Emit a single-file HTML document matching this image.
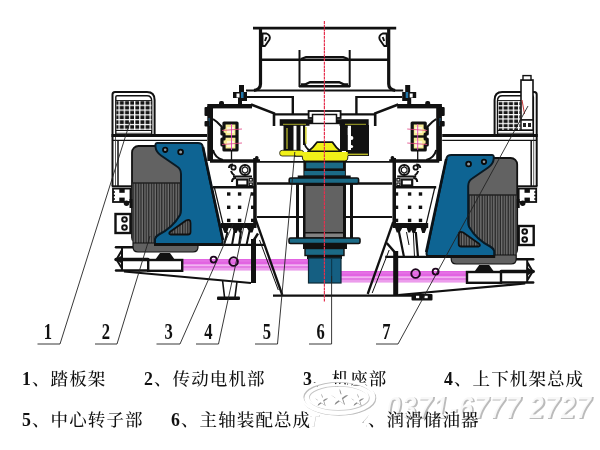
<!DOCTYPE html>
<html lang="zh"><head><meta charset="utf-8"><title>结构图</title>
<style>
html,body{margin:0;padding:0;background:#fff;}
body{width:600px;height:450px;position:relative;overflow:hidden;-webkit-font-smoothing:antialiased;font-family:"Liberation Serif","Noto Serif CJK SC",serif;}
.t{position:absolute;z-index:3;left:0;width:600px;height:24px;font-size:17.5px;letter-spacing:1.1px;line-height:24px;color:#111;white-space:nowrap;font-weight:500;}
.t span{position:absolute;top:0;}
svg,.t{will-change:transform;}
.t b{font-weight:bold;font-size:17.8px;}
</style></head><body>
<svg width="600" height="450" viewBox="0 0 600 450" style="position:absolute;left:0;top:0">

<defs>
<pattern id="fins" width="2.6" height="8" patternUnits="userSpaceOnUse"><rect width="2.6" height="8" fill="#707070"/><rect width="1.25" height="8" fill="#262626"/></pattern>
<pattern id="pink" width="8" height="12" patternUnits="userSpaceOnUse" y="259"><rect width="8" height="12" fill="#f2b4f2"/><rect width="8" height="5.3" fill="#e264e2"/><rect y="1.6" width="8" height="0.7" fill="#ea88ea"/><rect y="7" width="8" height="2.4" fill="#e47ce4"/><rect y="10.4" width="8" height="1.6" fill="#e88ce8"/></pattern>
<pattern id="mesh" width="5.18" height="4.8" patternUnits="userSpaceOnUse" x="118.5" y="104.7"><rect width="5.18" height="4.8" fill="#161616"/><rect width="1.25" height="4.8" fill="#fff"/><rect width="5.18" height="1.2" fill="#fff"/></pattern>
<pattern id="meshr" width="5.2" height="4.4" patternUnits="userSpaceOnUse" x="502.4" y="105.2"><rect width="5.2" height="4.4" fill="#161616"/><rect width="1.25" height="4.4" fill="#fff"/><rect width="5.2" height="1.2" fill="#fff"/></pattern>
</defs>

<rect width="600" height="450" fill="#fff"/>
<!-- base + motors -->
<g>
<path d="M227.5 232 L224 245 M234.5 231 L232 245 M241 231 L239 245 M249.5 231 L246.5 245" fill="none" stroke="#111" stroke-width="2"/>
<path d="M253.5 240.5 L258 233.5" stroke="#111" stroke-width="2.4" fill="none"/>

<rect x="183" y="259" width="126" height="11.5" fill="url(#pink)"/>
<rect x="148.2" y="260" width="34" height="10.8" fill="#fff" stroke="#111" stroke-width="2.4"/>
<line x1="116" y1="247.3" x2="134" y2="247.3" stroke="#111" stroke-width="2.5" stroke-linecap="round"/>
<line x1="116" y1="259.5" x2="148" y2="259.5" stroke="#111" stroke-width="3.4" stroke-linecap="round"/>
<path d="M122 247 V271 M122 250 L116.5 259.5 L122 268.5" stroke="#111" stroke-width="2" fill="none" stroke-linejoin="round"/>
<line x1="116" y1="270.5" x2="148" y2="270.5" stroke="#111" stroke-width="2.4" stroke-linecap="round"/>
<path d="M122.5 255 L115.5 259.5 L122.5 264 Z" fill="#111"/>
<line x1="124" y1="271.5" x2="251" y2="283" stroke="#111" stroke-width="2.2"/>
<rect x="251" y="239" width="5" height="44" fill="#111"/>
<circle cx="213.6" cy="259.6" r="3" fill="none" stroke="#1c041c" stroke-width="1.8"/>
<circle cx="233.6" cy="261.6" r="4.3" fill="none" stroke="#1c041c" stroke-width="1.9"/>
<rect x="115.5" y="214" width="15" height="19" fill="#fff" stroke="#111" stroke-width="2.4"/>
<circle cx="124.5" cy="219.5" r="2.3" fill="#fff" stroke="#111" stroke-width="2"/>
<circle cx="124.5" cy="227.5" r="2.3" fill="#fff" stroke="#111" stroke-width="2"/>
<line x1="222" y1="244.8" x2="264" y2="244.8" stroke="#111" stroke-width="2.2"/>

<rect x="132" y="146" width="56" height="98" rx="6.5" fill="#626262" stroke="#111" stroke-width="1.8"/>
<rect x="132.5" y="183" width="52" height="60" fill="url(#fins)"/>
<line x1="132" y1="183" x2="185" y2="183" stroke="#222" stroke-width="1.5"/>
<path d="M133 243 H198 V247 Q198 252 193 252 H138 Q133 252 133 247 Z" fill="#626262" stroke="#111" stroke-width="1.2"/>
<path d="M160 253 L170 253 L175 260 L155 260 Z" fill="#111"/>
<path d="M157 143 H198 Q202 143 202.6 146 Q214 200 222.5 240 Q223.3 244 220 244 H155 V239 Q156 236 159 234.5 C168 230 176 222 180 215 Q181 213 181 210 V174 Q181 169 177 166.5 L161 155.5 Q156 152 155.5 147 Q155 143 157 143 Z" fill="#0e6493" stroke="#0a1a24" stroke-width="2" stroke-linejoin="round"/>
<line x1="154" y1="244.5" x2="223" y2="244.5" stroke="#111" stroke-width="2.8"/>
<path d="M203 147 Q214.4 200 223 240" fill="none" stroke="#0a1218" stroke-width="2.6"/>
<circle cx="165.2" cy="149.8" r="2.2" fill="#8e9aa2" stroke="#0a0a0a" stroke-width="1.8"/>
<circle cx="180.6" cy="152" r="2.4" fill="#8e9aa2" stroke="#0a0a0a" stroke-width="1.8"/>
<path d="M170.5 234.5 Q168 233.5 170.5 231.5 L186 220.5 Q190.5 218.5 190.5 223 V232 Q190.5 234.5 188 234.5 Z" fill="url(#fins)" stroke="#111" stroke-width="1.8" stroke-linejoin="round"/>
</g>

<path d="M399 232 L404 257 M415.8 232 L418 257" fill="none" stroke="#111" stroke-width="2.2"/>
<path d="M413.3 232 L414.5 257 M406.5 232 L409 245" fill="none" stroke="#111" stroke-width="1"/>
<path d="M395 252.5 L386.7 243" stroke="#111" stroke-width="2.5" fill="none"/>

<g transform="translate(649.2,12) scale(-1,1)">
<rect x="183" y="259" width="126" height="11.5" fill="url(#pink)"/>
<rect x="148.2" y="260" width="34" height="10.8" fill="#fff" stroke="#111" stroke-width="2.4"/>
<line x1="116" y1="247.3" x2="134" y2="247.3" stroke="#111" stroke-width="2.5" stroke-linecap="round"/>
<line x1="116" y1="259.5" x2="148" y2="259.5" stroke="#111" stroke-width="3.4" stroke-linecap="round"/>
<path d="M122 247 V271 M122 250 L116.5 259.5 L122 268.5" stroke="#111" stroke-width="2" fill="none" stroke-linejoin="round"/>
<line x1="116" y1="270.5" x2="148" y2="270.5" stroke="#111" stroke-width="2.4" stroke-linecap="round"/>
<path d="M122.5 255 L115.5 259.5 L122.5 264 Z" fill="#111"/>
<line x1="124" y1="271.5" x2="251" y2="283" stroke="#111" stroke-width="2.2"/>
<rect x="251" y="239" width="5" height="44" fill="#111"/>
<circle cx="213.6" cy="259.6" r="3" fill="none" stroke="#1c041c" stroke-width="1.8"/>
<circle cx="233.6" cy="261.6" r="4.3" fill="none" stroke="#1c041c" stroke-width="1.9"/>
<rect x="115.5" y="214" width="15" height="19" fill="#fff" stroke="#111" stroke-width="2.4"/>
<circle cx="124.5" cy="219.5" r="2.3" fill="#fff" stroke="#111" stroke-width="2"/>
<circle cx="124.5" cy="227.5" r="2.3" fill="#fff" stroke="#111" stroke-width="2"/>
<line x1="222" y1="244.8" x2="264" y2="244.8" stroke="#111" stroke-width="2.2"/>

<rect x="132" y="146" width="56" height="98" rx="6.5" fill="#626262" stroke="#111" stroke-width="1.8"/>
<rect x="132.5" y="183" width="52" height="60" fill="url(#fins)"/>
<line x1="132" y1="183" x2="185" y2="183" stroke="#222" stroke-width="1.5"/>
<path d="M133 243 H198 V247 Q198 252 193 252 H138 Q133 252 133 247 Z" fill="#626262" stroke="#111" stroke-width="1.2"/>
<path d="M160 253 L170 253 L175 260 L155 260 Z" fill="#111"/>
<path d="M157 143 H198 Q202 143 202.6 146 Q214 200 222.5 240 Q223.3 244 220 244 H155 V239 Q156 236 159 234.5 C168 230 176 222 180 215 Q181 213 181 210 V174 Q181 169 177 166.5 L161 155.5 Q156 152 155.5 147 Q155 143 157 143 Z" fill="#0e6493" stroke="#0a1a24" stroke-width="2" stroke-linejoin="round"/>
<line x1="154" y1="244.5" x2="223" y2="244.5" stroke="#111" stroke-width="2.8"/>
<path d="M203 147 Q214.4 200 223 240" fill="none" stroke="#0a1218" stroke-width="2.6"/>
<circle cx="165.2" cy="149.8" r="2.2" fill="#8e9aa2" stroke="#0a0a0a" stroke-width="1.8"/>
<circle cx="180.6" cy="152" r="2.4" fill="#8e9aa2" stroke="#0a0a0a" stroke-width="1.8"/>
<path d="M170.5 234.5 Q168 233.5 170.5 231.5 L186 220.5 Q190.5 218.5 190.5 223 V232 Q190.5 234.5 188 234.5 Z" fill="url(#fins)" stroke="#111" stroke-width="1.8" stroke-linejoin="round"/>
</g>

<line x1="255.5" y1="219" x2="282.3" y2="295" stroke="#111" stroke-width="2.3"/>
<line x1="259.5" y1="240" x2="278.3" y2="290" stroke="#111" stroke-width="1"/>

<g transform="translate(649.2,0) scale(-1,1)"><line x1="256" y1="222" x2="281.5" y2="294" stroke="#111" stroke-width="2.3"/><line x1="260" y1="250" x2="277" y2="293" stroke="#111" stroke-width="1"/></g>

<path d="M112.5 186 V94.5 Q112.5 92 115 92 H147 Q154.6 92 154.6 100 V134" fill="none" stroke="#111" stroke-width="2"/>
<path d="M115.8 134 V97 Q115.8 95.8 117 95.8 H147 Q151.7 95.8 151.7 101 V134" fill="none" stroke="#111" stroke-width="1.4"/>
<line x1="116" y1="100.6" x2="152" y2="100.6" stroke="#111" stroke-width="1"/>
<line x1="111.5" y1="135.5" x2="207" y2="135.5" stroke="#111" stroke-width="3"/>
<line x1="113" y1="140.4" x2="207" y2="140.4" stroke="#111" stroke-width="1.3"/>
<line x1="116" y1="130.4" x2="152" y2="130.4" stroke="#111" stroke-width="1.2"/>
<line x1="116" y1="133.3" x2="152" y2="133.3" stroke="#111" stroke-width="0.8"/>
<line x1="115.5" y1="137" x2="115.5" y2="186" stroke="#333" stroke-width="0.8"/>
<line x1="118" y1="141" x2="118" y2="186" stroke="#111" stroke-width="1.5"/>
<line x1="111.7" y1="186.3" x2="132" y2="186.3" stroke="#111" stroke-width="2"/>
<rect x="113" y="188.6" width="17.5" height="13.4" fill="#fff" stroke="#111" stroke-width="1.8"/>
<rect x="119.3" y="188.6" width="5.4" height="4.2" fill="#111"/>
<rect x="119.3" y="197.6" width="5.4" height="4.4" fill="#111"/>
<path d="M113 192 h2 M113 195.5 h2 M113 199 h2" stroke="#111" stroke-width="1.4"/>
<circle cx="126.5" cy="203.3" r="2.7" fill="#111"/>
<rect x="129.5" y="199" width="3" height="9" fill="#111"/>
<rect x="116.5" y="101" width="35" height="29" fill="url(#mesh)"/>
<g transform="translate(649.2,0) scale(-1,1)">
<path d="M112.5 186 V94.5 Q112.5 92 115 92 H147 Q154.6 92 154.6 100 V134" fill="none" stroke="#111" stroke-width="2"/>
<path d="M115.8 134 V97 Q115.8 95.8 117 95.8 H147 Q151.7 95.8 151.7 101 V134" fill="none" stroke="#111" stroke-width="1.4"/>
<line x1="116" y1="100.6" x2="152" y2="100.6" stroke="#111" stroke-width="1"/>
<line x1="111.5" y1="135.5" x2="207" y2="135.5" stroke="#111" stroke-width="3"/>
<line x1="113" y1="140.4" x2="207" y2="140.4" stroke="#111" stroke-width="1.3"/>
<line x1="116" y1="130.4" x2="152" y2="130.4" stroke="#111" stroke-width="1.2"/>
<line x1="116" y1="133.3" x2="152" y2="133.3" stroke="#111" stroke-width="0.8"/>
<line x1="115.5" y1="137" x2="115.5" y2="186" stroke="#333" stroke-width="0.8"/>
<line x1="118" y1="141" x2="118" y2="186" stroke="#111" stroke-width="1.5"/>
<line x1="111.7" y1="186.3" x2="132" y2="186.3" stroke="#111" stroke-width="2"/>
<rect x="113" y="188.6" width="17.5" height="13.4" fill="#fff" stroke="#111" stroke-width="1.8"/>
<rect x="119.3" y="188.6" width="5.4" height="4.2" fill="#111"/>
<rect x="119.3" y="197.6" width="5.4" height="4.4" fill="#111"/>
<path d="M113 192 h2 M113 195.5 h2 M113 199 h2" stroke="#111" stroke-width="1.4"/>
<circle cx="126.5" cy="203.3" r="2.7" fill="#111"/>
<rect x="129.5" y="199" width="3" height="9" fill="#111"/>
</g><rect x="498.5" y="101" width="22" height="29" fill="url(#meshr)"/>

<!-- hopper -->
<path d="M260.5 28 V84 Q260.5 89.5 254 90.5" fill="none" stroke="#111" stroke-width="3.2"/>
<path d="M262.5 33.5 h4 q4.5 2 3 6 l-4.5 6.5 h-2.5 Z M266.5 37 l-1.5 4" fill="#fff" stroke="#111" stroke-width="1.9" stroke-linejoin="round"/>
<line x1="299.5" y1="50" x2="299.5" y2="87" stroke="#111" stroke-width="2"/>
<path d="M301 59 L306 57 H325" fill="none" stroke="#111" stroke-width="2.2"/>
<path d="M301 84.5 H305 L310 82.2 H325" fill="none" stroke="#111" stroke-width="2.4"/>
<line x1="247" y1="97" x2="293" y2="97" stroke="#111" stroke-width="2.2"/>
<line x1="292.8" y1="96" x2="292.8" y2="115" stroke="#111" stroke-width="2.4"/>
<line x1="274" y1="114.3" x2="309" y2="114.3" stroke="#111" stroke-width="2.3"/>
<!-- casing -->
<rect x="207.3" y="106" width="5.7" height="55" fill="#111"/>
<rect x="207.3" y="104" width="44.7" height="4.4" fill="#111"/>
<path d="M251 104.5 L274 113.3 V126" fill="none" stroke="#111" stroke-width="2.6"/>
<rect x="204.5" y="107" width="5" height="9" rx="1" fill="#111"/>
<rect x="208.3" y="118" width="1.6" height="8" fill="#1c4a66"/>
<rect x="204.5" y="121" width="5" height="5.5" rx="1" fill="#111"/>
<rect x="219" y="101" width="5" height="5" rx="2" fill="#111"/>
<path d="M233 92 h6 v-7 h5 v7 h3 v9 h-5 v5 h-4 v-8 h-5 Z" fill="#111"/>
<rect x="236.5" y="93.5" width="3" height="4" fill="#fff"/>
<rect x="241" y="92" width="2.5" height="6" fill="#2277aa"/>
<line x1="210" y1="160.5" x2="260" y2="160.5" stroke="#111" stroke-width="2.6"/>
<path d="M213 150 Q215 158 223 160" fill="none" stroke="#111" stroke-width="2"/>
<!-- cream blocks -->
<path d="M224 123 h13 v27 h-13 v-5 h-2 v-6 h2 v-5 h-2 v-6 h2 Z" fill="#f6ec96" stroke="#111" stroke-width="3.2" stroke-linejoin="round"/>
<line x1="223" y1="136.5" x2="238" y2="136.5" stroke="#111" stroke-width="2.4"/>
<rect x="227" y="127" width="7" height="6" fill="#fdf8d8"/>
<rect x="227" y="141" width="7" height="6" fill="#fdf8d8"/>
<line x1="231.5" y1="124" x2="231.5" y2="150" stroke="#e040c0" stroke-width="0.9"/>
<line x1="222" y1="130.5" x2="242" y2="129" stroke="#e04080" stroke-width="0.8"/>
<line x1="222" y1="144.5" x2="242" y2="143" stroke="#e04080" stroke-width="0.8"/>
<line x1="231.5" y1="150" x2="231.5" y2="161" stroke="#111" stroke-width="1.3"/>
<path d="M213 119 l4 3 l5 5" fill="none" stroke="#111" stroke-width="2"/>
<!-- mid frame -->
<rect x="253.2" y="158" width="3.5" height="66" fill="#111"/>
<rect x="255" y="156" width="3.5" height="5" rx="1.5" fill="#111"/>
<line x1="213" y1="187.2" x2="254" y2="187.2" stroke="#111" stroke-width="2.4"/>
<path d="M229 168 Q229 164.5 233 164.5 M233 176.5 H252" fill="none" stroke="#111" stroke-width="2"/>
<circle cx="245" cy="170" r="5" fill="#fff" stroke="#111" stroke-width="2"/>
<path d="M245 166.8 l2.8 1.6 v3.2 l-2.8 1.6 l-2.8 -1.6 v-3.2 Z" fill="#fff" stroke="#111" stroke-width="1.2"/>
<circle cx="233.5" cy="167.5" r="2.2" fill="#fff" stroke="#111" stroke-width="1.8"/>
<path d="M231 171 q1 3 3.5 4.5" fill="none" stroke="#111" stroke-width="2"/>
<rect x="237" y="179.5" width="10.5" height="6" fill="#fff" stroke="#111" stroke-width="2.2"/>
<path d="M236 178 q-4 0 -4 4" fill="none" stroke="#111" stroke-width="2"/>
<rect x="249.3" y="178.5" width="3" height="2.6" fill="#fff" stroke="#111" stroke-width="1.2"/>
<rect x="249.3" y="183" width="3" height="2.6" fill="#fff" stroke="#111" stroke-width="1.2"/>
<line x1="214.5" y1="188" x2="223" y2="224" stroke="#111" stroke-width="1.2"/>
<rect x="227" y="192.3" width="3.4" height="3.4" fill="#111"/><rect x="237.9" y="192.3" width="3.4" height="3.4" fill="#111"/><rect x="251" y="192.3" width="3" height="3.4" fill="#111"/><rect x="227" y="205.6" width="3.4" height="3.4" fill="#111"/><rect x="237.9" y="205.6" width="3.4" height="3.4" fill="#111"/><rect x="251" y="205.6" width="3" height="3.4" fill="#111"/><rect x="227" y="218.7" width="3.4" height="3.4" fill="#111"/><rect x="237.9" y="218.7" width="3.4" height="3.4" fill="#111"/><rect x="251" y="218.7" width="3" height="3.4" fill="#111"/>
<rect x="221" y="223" width="35.5" height="5" fill="#111"/>
<path d="M222.5 228 h6 l-1.5 5 h-2.5 Z M232.5 228 h10 l-1.5 4.5 h-2 l-1 -2.5 l-1.5 3 h-2.5 Z M247 228 h7 l-1.5 4.5 h-3 Z" fill="#111"/>

<g transform="translate(649.2,0) scale(-1,1)">
<!-- hopper -->
<path d="M260.5 28 V84 Q260.5 89.5 254 90.5" fill="none" stroke="#111" stroke-width="3.2"/>
<path d="M262.5 33.5 h4 q4.5 2 3 6 l-4.5 6.5 h-2.5 Z M266.5 37 l-1.5 4" fill="#fff" stroke="#111" stroke-width="1.9" stroke-linejoin="round"/>
<line x1="299.5" y1="50" x2="299.5" y2="87" stroke="#111" stroke-width="2"/>
<path d="M301 59 L306 57 H325" fill="none" stroke="#111" stroke-width="2.2"/>
<path d="M301 84.5 H305 L310 82.2 H325" fill="none" stroke="#111" stroke-width="2.4"/>
<line x1="247" y1="97" x2="293" y2="97" stroke="#111" stroke-width="2.2"/>
<line x1="292.8" y1="96" x2="292.8" y2="115" stroke="#111" stroke-width="2.4"/>
<line x1="274" y1="114.3" x2="309" y2="114.3" stroke="#111" stroke-width="2.3"/>
<!-- casing -->
<rect x="207.3" y="106" width="5.7" height="55" fill="#111"/>
<rect x="207.3" y="104" width="44.7" height="4.4" fill="#111"/>
<path d="M251 104.5 L274 113.3 V126" fill="none" stroke="#111" stroke-width="2.6"/>
<rect x="204.5" y="107" width="5" height="9" rx="1" fill="#111"/>
<rect x="208.3" y="118" width="1.6" height="8" fill="#1c4a66"/>
<rect x="204.5" y="121" width="5" height="5.5" rx="1" fill="#111"/>
<rect x="219" y="101" width="5" height="5" rx="2" fill="#111"/>
<path d="M233 92 h6 v-7 h5 v7 h3 v9 h-5 v5 h-4 v-8 h-5 Z" fill="#111"/>
<rect x="236.5" y="93.5" width="3" height="4" fill="#fff"/>
<rect x="241" y="92" width="2.5" height="6" fill="#2277aa"/>
<line x1="210" y1="160.5" x2="260" y2="160.5" stroke="#111" stroke-width="2.6"/>
<path d="M213 150 Q215 158 223 160" fill="none" stroke="#111" stroke-width="2"/>
<!-- cream blocks -->
<path d="M224 123 h13 v27 h-13 v-5 h-2 v-6 h2 v-5 h-2 v-6 h2 Z" fill="#f6ec96" stroke="#111" stroke-width="3.2" stroke-linejoin="round"/>
<line x1="223" y1="136.5" x2="238" y2="136.5" stroke="#111" stroke-width="2.4"/>
<rect x="227" y="127" width="7" height="6" fill="#fdf8d8"/>
<rect x="227" y="141" width="7" height="6" fill="#fdf8d8"/>
<line x1="231.5" y1="124" x2="231.5" y2="150" stroke="#e040c0" stroke-width="0.9"/>
<line x1="222" y1="130.5" x2="242" y2="129" stroke="#e04080" stroke-width="0.8"/>
<line x1="222" y1="144.5" x2="242" y2="143" stroke="#e04080" stroke-width="0.8"/>
<line x1="231.5" y1="150" x2="231.5" y2="161" stroke="#111" stroke-width="1.3"/>
<path d="M213 119 l4 3 l5 5" fill="none" stroke="#111" stroke-width="2"/>
<!-- mid frame -->
<rect x="253.2" y="158" width="3.5" height="66" fill="#111"/>
<rect x="255" y="156" width="3.5" height="5" rx="1.5" fill="#111"/>
<line x1="213" y1="187.2" x2="254" y2="187.2" stroke="#111" stroke-width="2.4"/>
<path d="M229 168 Q229 164.5 233 164.5 M233 176.5 H252" fill="none" stroke="#111" stroke-width="2"/>
<circle cx="245" cy="170" r="5" fill="#fff" stroke="#111" stroke-width="2"/>
<path d="M245 166.8 l2.8 1.6 v3.2 l-2.8 1.6 l-2.8 -1.6 v-3.2 Z" fill="#fff" stroke="#111" stroke-width="1.2"/>
<circle cx="233.5" cy="167.5" r="2.2" fill="#fff" stroke="#111" stroke-width="1.8"/>
<path d="M231 171 q1 3 3.5 4.5" fill="none" stroke="#111" stroke-width="2"/>
<rect x="237" y="179.5" width="10.5" height="6" fill="#fff" stroke="#111" stroke-width="2.2"/>
<path d="M236 178 q-4 0 -4 4" fill="none" stroke="#111" stroke-width="2"/>
<rect x="249.3" y="178.5" width="3" height="2.6" fill="#fff" stroke="#111" stroke-width="1.2"/>
<rect x="249.3" y="183" width="3" height="2.6" fill="#fff" stroke="#111" stroke-width="1.2"/>
<line x1="214.5" y1="188" x2="223" y2="224" stroke="#111" stroke-width="1.2"/>
<rect x="227" y="192.3" width="3.4" height="3.4" fill="#111"/><rect x="237.9" y="192.3" width="3.4" height="3.4" fill="#111"/><rect x="251" y="192.3" width="3" height="3.4" fill="#111"/><rect x="227" y="205.6" width="3.4" height="3.4" fill="#111"/><rect x="237.9" y="205.6" width="3.4" height="3.4" fill="#111"/><rect x="251" y="205.6" width="3" height="3.4" fill="#111"/><rect x="227" y="218.7" width="3.4" height="3.4" fill="#111"/><rect x="237.9" y="218.7" width="3.4" height="3.4" fill="#111"/><rect x="251" y="218.7" width="3" height="3.4" fill="#111"/>
<rect x="221" y="223" width="35.5" height="5" fill="#111"/>
<path d="M222.5 228 h6 l-1.5 5 h-2.5 Z M232.5 228 h10 l-1.5 4.5 h-2 l-1 -2.5 l-1.5 3 h-2.5 Z M247 228 h7 l-1.5 4.5 h-3 Z" fill="#111"/>
</g>

<!-- hopper centre lines -->
<line x1="253" y1="28.2" x2="396.2" y2="28.2" stroke="#111" stroke-width="2.8"/>
<line x1="261" y1="59.7" x2="388" y2="59.7" stroke="#111" stroke-width="2.4"/>
<line x1="299" y1="86.2" x2="350" y2="86.2" stroke="#111" stroke-width="2.4"/>
<line x1="246" y1="90.5" x2="403.2" y2="90.5" stroke="#111" stroke-width="2.2"/>
<!-- frame lines -->
<line x1="210" y1="161.8" x2="439.2" y2="161.8" stroke="#111" stroke-width="1.8"/>
<line x1="257" y1="183.5" x2="392.2" y2="183.5" stroke="#111" stroke-width="2.4"/>
<line x1="257" y1="217" x2="392.2" y2="217" stroke="#111" stroke-width="2"/>
<line x1="273" y1="295.6" x2="413" y2="295.6" stroke="#111" stroke-width="2.2"/>
<!-- rotor -->
<rect x="279.7" y="119.2" width="89" height="6.6" fill="#111"/>
<line x1="283" y1="124.3" x2="306" y2="124.3" stroke="#a8a828" stroke-width="1"/>
<line x1="345" y1="124.3" x2="366" y2="124.3" stroke="#a8a828" stroke-width="1"/>
<rect x="308.6" y="111" width="32" height="7" fill="#fff" stroke="#111" stroke-width="1.8"/>
<rect x="312.5" y="114.5" width="24" height="9" fill="#fff" stroke="#111" stroke-width="1.5"/>
<rect x="309.5" y="124.2" width="30" height="2" fill="#fff"/>
<rect x="283.5" y="125" width="10" height="26" fill="#111"/>
<rect x="286" y="128" width="2" height="21" fill="#7d7d22"/>
<rect x="296.5" y="125" width="4" height="26" fill="#111"/>
<rect x="303" y="125" width="2.2" height="20" fill="#111"/>
<rect x="305.2" y="127" width="1.4" height="17" fill="#d0d020"/>
<path d="M304 140 q0.5 8 6 10.5" fill="none" stroke="#111" stroke-width="1.8"/>
<rect x="340" y="125" width="7.8" height="26" fill="#111"/>
<rect x="351" y="125" width="18" height="26" fill="#111"/>
<circle cx="351.5" cy="138" r="1.9" fill="#fff"/>
<circle cx="351.5" cy="146.5" r="1.6" fill="#fff"/>
<rect x="347.8" y="128" width="3.2" height="7" fill="#fff"/>
<rect x="279.7" y="150.3" width="24" height="5.7" rx="2.5" fill="#f0f018" stroke="#111" stroke-width="0.8"/>
<rect x="346" y="150" width="23" height="6" fill="#111"/>
<rect x="348" y="153.6" width="20" height="1.5" fill="#b8b828"/>
<path d="M308 151.5 Q312.5 148.5 317 142.2 H332.5 Q336.5 148.5 341 151.5 Z" fill="#f0f018" stroke="#111" stroke-width="1.8" stroke-linejoin="round"/>
<path d="M296 152 H347.8 V158 Q347.8 161 344.8 161 H305.4 Q302.4 161 302.4 158 V156 H296 Z" fill="#f0f018"/>
<path d="M302.4 156.3 V158 Q302.4 161 305.4 161 H344.8 Q347.8 161 347.8 158 V156" fill="none" stroke="#111" stroke-width="0.9"/>
<line x1="294" y1="156.2" x2="302.4" y2="156.2" stroke="#111" stroke-width="1"/>
<!-- bearing upper -->
<rect x="303.4" y="161.8" width="42.5" height="17" fill="#111"/>
<rect x="306.2" y="162.6" width="36.8" height="5.8" fill="#1b6a86"/>
<rect x="304.4" y="171" width="40.5" height="4.6" fill="#1b6a86"/>
<rect x="297.7" y="175.5" width="53" height="4" fill="#111"/>
<rect x="289.2" y="178" width="69.4" height="5.6" rx="1.5" fill="#1b6a86" stroke="#111" stroke-width="1.6"/>
<!-- shaft housing -->
<rect x="296" y="184" width="3" height="55" fill="#111"/>
<rect x="350" y="184" width="3" height="55" fill="#111"/>
<rect x="303" y="184" width="43" height="55" fill="#111"/>
<rect x="305.5" y="186" width="37.5" height="46" fill="#626262"/>
<rect x="305.5" y="233.5" width="37.5" height="3.8" fill="#828282"/>
<rect x="289" y="238" width="71" height="5.5" rx="1.5" fill="#1b6a86" stroke="#111" stroke-width="1.6"/>
<rect x="303" y="243" width="44" height="6" fill="#111"/>
<rect x="305" y="248.5" width="39" height="7" fill="#1b6a86" stroke="#111" stroke-width="1.4"/>
<rect x="307" y="255" width="35" height="4" fill="#111"/>
<rect x="308.5" y="258" width="32.5" height="25" fill="#155f82" stroke="#0d2a36" stroke-width="1.2"/>
<line x1="331.6" y1="259" x2="331.6" y2="282" stroke="#0c3a50" stroke-width="1.2"/>
<line x1="324.4" y1="21" x2="324.4" y2="302" stroke="#e6304e" stroke-width="1.2" stroke-dasharray="3 0.7"/>


<path d="M222.5 280 L224.5 297 M237 281.5 L235 297" stroke="#111" stroke-width="1.6" fill="none"/>
<rect x="217" y="296.5" width="23" height="3.5" rx="1" fill="#111"/>

<rect x="521" y="80" width="12" height="40" fill="#fff" stroke="#111" stroke-width="1.6"/>
<rect x="523" y="75.6" width="8" height="4.4" fill="#fff" stroke="#111" stroke-width="1.4"/>
<rect x="521" y="120" width="12" height="10" fill="#fff" stroke="#111" stroke-width="1.4"/>
<rect x="523" y="123" width="3" height="4" fill="#222"/>
<rect x="528" y="123" width="3" height="4" fill="#222"/>
<line x1="522" y1="100" x2="524.5" y2="114" stroke="#c02020" stroke-width="0.9"/>
<rect x="411.5" y="294" width="21" height="6.5" rx="1" fill="#111"/>
<rect x="416" y="295.8" width="3.2" height="2.4" fill="#fff"/>
<rect x="424.5" y="295.8" width="3.2" height="2.4" fill="#fff"/>


<g stroke="#222" stroke-width="0.9" fill="none">
<path d="M37.5 344 H60 L130 122"/>
<path d="M95 344 H117 L150 236"/>
<path d="M156.5 344 H180 L233 224"/>
<path d="M196 344 H218.5 L251.3 192"/>
<path d="M255 344 H277.5 L294.8 152"/>
<path d="M309 344 H331.6 V276"/>
<path d="M376 344 H398 L528 106"/>
</g>

<g font-family="'Liberation Serif', serif" font-weight="bold" font-size="24px" fill="#111"><text x="0" y="0" transform="translate(47.8,339.3) scale(0.69,1)" text-anchor="middle">1</text><text x="0" y="0" transform="translate(106,339.3) scale(0.69,1)" text-anchor="middle">2</text><text x="0" y="0" transform="translate(168.7,339.3) scale(0.69,1)" text-anchor="middle">3</text><text x="0" y="0" transform="translate(208.5,339.3) scale(0.69,1)" text-anchor="middle">4</text><text x="0" y="0" transform="translate(266.8,339.3) scale(0.69,1)" text-anchor="middle">5</text><text x="0" y="0" transform="translate(320.7,339.3) scale(0.69,1)" text-anchor="middle">6</text><text x="0" y="0" transform="translate(386.3,339.3) scale(0.69,1)" text-anchor="middle">7</text></g>
</svg>
<svg width="600" height="450" viewBox="0 0 600 450" style="position:absolute;left:0;top:0">
<g font-family="'Liberation Sans', sans-serif" font-weight="bold" font-style="italic" font-size="31px">
<text x="386.8" y="419.2" fill="#b4b4b4" fill-opacity="0.9" textLength="206" lengthAdjust="spacingAndGlyphs">0371-6777 2727</text>
<text x="385" y="417.5" fill="#fff" fill-opacity="0.9" textLength="206" lengthAdjust="spacingAndGlyphs">0371-6777 2727</text>
</g>
</svg>

<div class="t" style="top:366.5px">
<span style="left:22px"><b>1</b>、踏板架</span>
<span style="left:144px"><b>2</b>、传动电机部</span>
<span style="left:303px"><b>3</b>、机座部</span>
<span style="left:444px"><b>4</b>、上下机架总成</span>
</div>
<div class="t" style="top:407.5px">
<span style="left:22px"><b>5</b>、中心转子部</span>
<span style="left:171px"><b>6</b>、主轴装配总成</span>
<span style="left:358px"><b>7</b>、润滑储油器</span>
</div>

<svg width="600" height="450" viewBox="0 0 600 450" style="position:absolute;left:0;top:0;z-index:5">
<g fill="none">
<ellipse cx="339.2" cy="398.2" rx="36" ry="16.5" stroke="#bdbdbd" stroke-width="2.2"/>
<ellipse cx="338" cy="397" rx="36" ry="16.5" stroke="#fff" stroke-width="2.8"/>
<ellipse cx="339" cy="398" rx="30" ry="12" stroke="#c6c6c6" stroke-width="1.6"/>
<ellipse cx="338" cy="397" rx="30" ry="12" stroke="#fff" stroke-width="2"/>
</g>
<g font-family="'DejaVu Sans', sans-serif" font-size="17px" text-anchor="middle">
<text x="321.5" y="405.5" fill="#8c8c8c">★</text><text x="320.5" y="404.5" fill="#fff">★</text>
<text x="339.8" y="405.2" fill="#8c8c8c" font-size="22px">★</text><text x="338.5" y="404" fill="#fff" font-size="22px">★</text>
<text x="357.5" y="405.5" fill="#8c8c8c">★</text><text x="356.5" y="404.5" fill="#fff">★</text>
</g>
<g font-family="'Liberation Sans', sans-serif" font-weight="bold" font-style="italic" font-size="16px" text-anchor="middle">
<text x="314" y="427" fill="#bbb">T</text><text x="313" y="426" fill="#fff" stroke="#fff" stroke-width="1.5">T</text>
<text x="363" y="427" fill="#bbb">Z</text><text x="362" y="426" fill="#fff" stroke="#fff" stroke-width="2">Z</text>
</g>
</svg>
</body></html>
